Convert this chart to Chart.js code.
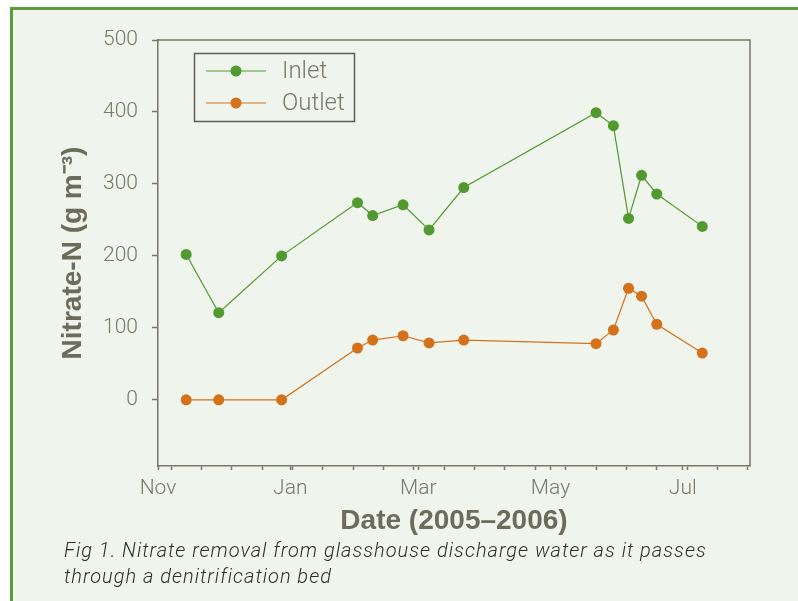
<!DOCTYPE html>
<html lang="en">
<head>
  <meta charset="UTF-8">
  <title>Nitrate removal</title>
  <script src="https://cdn.jsdelivr.net/npm/chart.js"></script>
  <style>
    body {
      margin: 0;
      background-color: #fff;
      width: 798px;
      height: 601px;
      overflow: hidden;
      position: relative;
    }
    #panel {
      position: absolute;
      left: 10px;
      top: 7px;
      width: 820px;
      height: 620px;
      background-color: #eff4ec;
      border-top: 3px solid #5b9b3a;
      border-left: 3px solid #5b9b3a;
    }
    #nitrateChart {
      position: absolute;
      left: 0;
      top: 0;
    }
    #caption {
      position: absolute;
      left: 64px;
      top: 537px;
      font-family: Roboto, "Liberation Sans", sans-serif;
      font-weight: 300;
      font-style: italic;
      font-size: 20px;
      letter-spacing: 1px;
      line-height: 26px;
      color: #2e2e2e;
      margin: 0;
    }
  </style>
</head>
<body>
  <div id="panel"></div>
  <canvas id="nitrateChart" width="798" height="545"></canvas>
  <p id="caption">Fig 1. Nitrate removal from glasshouse discharge water as it passes<br>through a denitrification bed</p>

  <script>
    // sampling dates and nitrate-N (g m-3)
    const sampleDates = ['2005-11-14', '2005-11-29', '2005-12-28', '2006-02-01', '2006-02-08',
      '2006-02-22', '2006-03-06', '2006-03-22', '2006-05-22', '2006-05-30',
      '2006-06-06', '2006-06-12', '2006-06-19', '2006-07-10'];
    const inlet = [202, 121, 200, 274, 256, 271, 236, 295, 399, 381, 252, 312, 286, 241];
    const outlet = [0, 0, 0, 72, 83, 89, 79, 83, 78, 97, 155, 144, 105, 65];

    const monthLabels = ['Nov', 'Jan', 'Mar', 'May', 'Jul'];
    const monthDates = ['2005-11-01', '2006-01-01', '2006-03-01', '2006-05-01', '2006-07-01'];
    const yTicks = [0, 100, 200, 300, 400, 500];

    const day0 = Date.UTC(2005, 10, 1);
    const toDay = s => Math.round((Date.parse(s) - day0) / 864e5);
    const xMax = toDay('2006-08-01');
    const monthDays = monthDates.map(toDay);
    const minorDays = [];
    for (let d = toDay('2005-11-07'); d <= xMax; d += 14) minorDays.push(d);

    const green = '#529930';
    const orange = '#d4711b';
    const axisGrey = '#797765';
    const textGrey = '#7a7866';
    const titleGrey = '#6d6b5b';
    const lightFont = 'Roboto, "Liberation Sans", sans-serif';
    const boldFont = '"Liberation Sans", Arial, sans-serif';

    const inletPts = sampleDates.map((d, i) => ({ x: toDay(d), y: inlet[i] }));
    const outletPts = sampleDates.map((d, i) => ({ x: toDay(d), y: outlet[i] }));

    // box round plot area and legend inside it
    const framePlugin = {
      id: 'frame',
      afterDraw(chart) {
        const { ctx, chartArea: a } = chart;
        ctx.save();
        ctx.strokeStyle = axisGrey;
        ctx.lineWidth = 1.5;
        ctx.beginPath();
        ctx.moveTo(a.left, a.top);
        ctx.lineTo(a.right, a.top);
        ctx.lineTo(a.right, a.bottom);
        ctx.stroke();

        // legend
        ctx.strokeStyle = '#5e5c4f';
        ctx.strokeRect(194.5, 53.5, 160, 68);
        const rows = [71, 103];
        chart.data.datasets.forEach((ds, i) => {
          const y = rows[i];
          ctx.strokeStyle = ds.borderColor;
          ctx.lineWidth = 1.2;
          ctx.beginPath();
          ctx.moveTo(206, y);
          ctx.lineTo(266, y);
          ctx.stroke();
          ctx.fillStyle = ds.pointBackgroundColor;
          ctx.beginPath();
          ctx.arc(236, y, 5.5, 0, Math.PI * 2);
          ctx.fill();
          ctx.fillStyle = textGrey;
          ctx.font = '300 24px ' + lightFont;
          ctx.textBaseline = 'middle';
          ctx.textAlign = 'left';
          ctx.fillText(ds.label, 282, y + 1);
        });
        ctx.restore();
      }
    };

    const ctx = document.getElementById('nitrateChart').getContext('2d');
    new Chart(ctx, {
      type: 'line',
      data: {
        datasets: [{
          label: 'Inlet',
          data: inletPts,
          borderColor: green,
          backgroundColor: green,
          pointBackgroundColor: green,
          borderWidth: 1.2,
          pointRadius: 5.5,
          pointBorderWidth: 0,
          tension: 0
        }, {
          label: 'Outlet',
          data: outletPts,
          borderColor: orange,
          backgroundColor: orange,
          pointBackgroundColor: orange,
          borderWidth: 1.2,
          pointRadius: 5.5,
          pointBorderWidth: 0,
          tension: 0
        }]
      },
      options: {
        responsive: false,
        animation: false,
        layout: { padding: { left: 0, top: 40, right: 48, bottom: 0 } },
        plugins: {
          legend: { display: false },
          tooltip: { enabled: false }
        },
        scales: {
          x: {
            type: 'linear',
            min: 0,
            max: xMax,
            afterFit: s => { s.height = 545 - 466; },
            afterBuildTicks: s => {
              const all = [...new Set([...monthDays, ...minorDays])].sort((a, b) => a - b);
              s.ticks = all.map(v => ({ value: v }));
            },
            ticks: {
              autoSkip: false,
              maxRotation: 0,
              padding: 6,
              color: textGrey,
              font: { family: lightFont, size: 21, weight: 300 },
              callback: v => {
                const i = monthDays.indexOf(v);
                return i >= 0 ? monthLabels[i] : '';
              }
            },
            grid: {
              drawOnChartArea: false,
              tickLength: 4,
              tickColor: axisGrey,
              tickWidth: 1.5
            },
            border: { color: axisGrey, width: 1.5 },
            title: {
              display: true,
              text: 'Date (2005–2006)',
              color: titleGrey,
              padding: { top: 0, bottom: 7 },
              font: { family: boldFont, size: 28, weight: 'bold' }
            }
          },
          y: {
            min: -92,
            max: 500,
            afterFit: s => { s.width = 158; },
            afterBuildTicks: s => { s.ticks = yTicks.map(v => ({ value: v })); },
            ticks: {
              padding: 14,
              color: textGrey,
              font: { family: lightFont, size: 21, weight: 300 }
            },
            grid: {
              drawOnChartArea: false,
              tickLength: 6,
              tickColor: axisGrey,
              tickWidth: 1.5
            },
            border: { color: axisGrey, width: 1.5 },
            title: {
              display: true,
              text: 'Nitrate-N (g m⁻³)',
              color: titleGrey,
              padding: { top: 56, bottom: 0 },
              font: { family: boldFont, size: 28, weight: 'bold' }
            }
          }
        }
      },
      plugins: [framePlugin]
    });
  </script>
</body>
</html>
